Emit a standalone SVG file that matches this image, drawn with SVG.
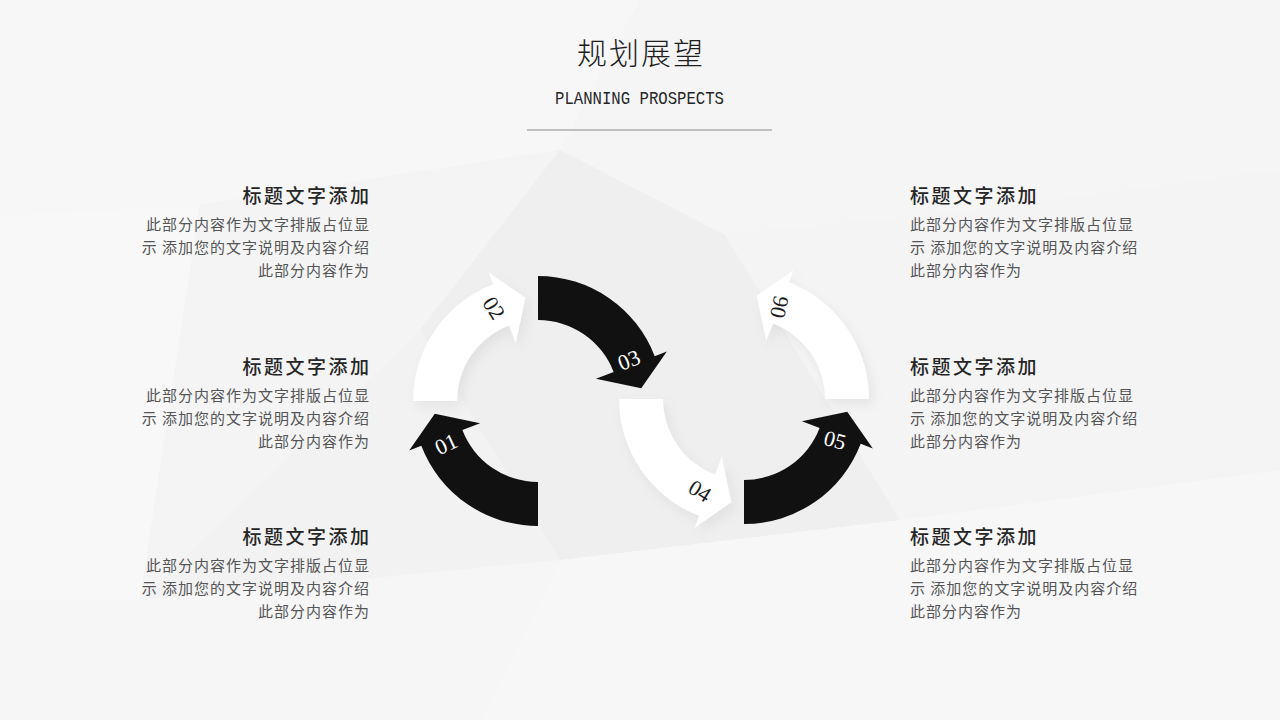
<svg xmlns="http://www.w3.org/2000/svg" width="1280" height="720" viewBox="0 0 1280 720">
<style>
.head{font-family:"Noto Sans CJK SC","Noto Sans",sans-serif;font-size:30px;fill:#1e1e1e;letter-spacing:2px;font-weight:300}
.sub{font-family:"Liberation Mono",monospace;font-size:19px;fill:#262626}
.t{font-family:"Noto Sans CJK SC","Noto Sans",sans-serif;font-size:19px;fill:#262626;letter-spacing:2.5px;font-weight:500}
.b{font-family:"Noto Sans CJK SC","Noto Sans",sans-serif;font-size:15px;fill:#555555;letter-spacing:1px}
.num{font-family:"Liberation Serif",serif;font-size:22px;text-anchor:middle;dominant-baseline:central}
.blk{fill:#111111}
.wht{fill:#ffffff;filter:url(#sh)}
</style>
<defs>
<filter id="sh" x="-30%" y="-30%" width="160%" height="160%">
<feDropShadow dx="4" dy="6" stdDeviation="6" flood-color="#000" flood-opacity="0.06"/>
</filter>
</defs>
<g id="background">
<rect width="1280" height="720" fill="#f2f2f3"/>
<polygon points="0,0 640,0 560,150 200,205 0,215" fill="#f7f7f8"/>
<polygon points="640,0 1280,0 1280,170 980,210 725,235 560,150" fill="#f5f5f6"/>
<polygon points="0,215 200,205 140,600 0,600" fill="#f8f8f8"/>
<polygon points="200,205 560,150 420,330 140,600" fill="#f4f4f5"/>
<polygon points="560,150 725,235 900,520 560,560 420,330" fill="#efeff0"/>
<polygon points="725,235 980,210 1280,170 1280,470 900,520" fill="#f4f4f5"/>
<polygon points="0,600 140,600 560,560 480,720 0,720" fill="#f6f6f7"/>
<polygon points="560,560 900,520 1280,470 1280,720 480,720" fill="#f7f7f8"/>
</g>
<g id="header">
<text class="head" x="641" y="63.5" text-anchor="middle">规划展望</text>
<text class="sub" x="555" y="104" textLength="169" lengthAdjust="spacingAndGlyphs">PLANNING PROSPECTS</text>
<line x1="527" y1="130" x2="772" y2="130" stroke="#8a8a8a" stroke-width="1"/>
</g>
<g id="arrow-01">
<path class="blk" d="M538,526 A125,125 0 0 1 421.3,445.8 L409.17,450.46 L434.77,413.67 L480.12,423.22 L462.38,430.03 A81,81 0 0 0 538,482 Z"/>
<text class="num" fill="#ffffff" transform="translate(446,444) rotate(-25)">01</text>
</g>
<g id="arrow-02">
<path class="wht" d="M413,401 A125,125 0 0 1 493.2,284.3 L488.54,272.17 L525.33,297.77 L515.78,343.12 L508.97,325.38 A81,81 0 0 0 457,401 Z"/>
<text class="num" fill="#1a1a1a" transform="translate(494,308) rotate(58)">02</text>
</g>
<g id="arrow-03">
<path class="blk" d="M538,276 A125,125 0 0 1 654.7,356.2 L666.83,351.54 L641.23,388.33 L595.88,378.78 L613.62,371.97 A81,81 0 0 0 538,320 Z"/>
<text class="num" fill="#ffffff" transform="translate(629,360) rotate(-22)">03</text>
</g>
<g id="arrow-04">
<path class="wht" d="M619,399 A125,125 0 0 0 699.2,515.7 L694.54,527.83 L731.33,502.23 L721.78,456.88 L714.97,474.62 A81,81 0 0 1 663,399 Z"/>
<text class="num" fill="#1a1a1a" transform="translate(700,491) rotate(32)">04</text>
</g>
<g id="arrow-05">
<path class="blk" d="M744,524 A125,125 0 0 0 860.7,443.8 L872.83,448.46 L847.23,411.67 L801.88,421.22 L819.62,428.03 A81,81 0 0 1 744,480 Z"/>
<text class="num" fill="#ffffff" transform="translate(835,440) rotate(15)">05</text>
</g>
<g id="arrow-06">
<path class="wht" d="M869,399 A125,125 0 0 0 788.8,282.3 L793.46,270.17 L756.67,295.77 L766.22,341.12 L773.03,323.38 A81,81 0 0 1 825,399 Z"/>
<text class="num" fill="#1a1a1a" transform="translate(779,307) rotate(-78)">06</text>
</g>
<g id="text-left-1" text-anchor="end">
<text class="t" x="371.5" y="203">标题文字添加</text>
<text class="b" x="370" y="229.7">此部分内容作为文字排版占位显</text>
<text class="b" x="370" y="252.7">示 添加您的文字说明及内容介绍</text>
<text class="b" x="370" y="275.7">此部分内容作为</text>
</g>
<g id="text-left-2" text-anchor="end">
<text class="t" x="371.5" y="374">标题文字添加</text>
<text class="b" x="370" y="400.7">此部分内容作为文字排版占位显</text>
<text class="b" x="370" y="423.7">示 添加您的文字说明及内容介绍</text>
<text class="b" x="370" y="446.7">此部分内容作为</text>
</g>
<g id="text-left-3" text-anchor="end">
<text class="t" x="371.5" y="544">标题文字添加</text>
<text class="b" x="370" y="570.7">此部分内容作为文字排版占位显</text>
<text class="b" x="370" y="593.7">示 添加您的文字说明及内容介绍</text>
<text class="b" x="370" y="616.7">此部分内容作为</text>
</g>
<g id="text-right-1">
<text class="t" x="910" y="203">标题文字添加</text>
<text class="b" x="910" y="229.7">此部分内容作为文字排版占位显</text>
<text class="b" x="910" y="252.7">示 添加您的文字说明及内容介绍</text>
<text class="b" x="910" y="275.7">此部分内容作为</text>
</g>
<g id="text-right-2">
<text class="t" x="910" y="374">标题文字添加</text>
<text class="b" x="910" y="400.7">此部分内容作为文字排版占位显</text>
<text class="b" x="910" y="423.7">示 添加您的文字说明及内容介绍</text>
<text class="b" x="910" y="446.7">此部分内容作为</text>
</g>
<g id="text-right-3">
<text class="t" x="910" y="544">标题文字添加</text>
<text class="b" x="910" y="570.7">此部分内容作为文字排版占位显</text>
<text class="b" x="910" y="593.7">示 添加您的文字说明及内容介绍</text>
<text class="b" x="910" y="616.7">此部分内容作为</text>
</g>
</svg>
